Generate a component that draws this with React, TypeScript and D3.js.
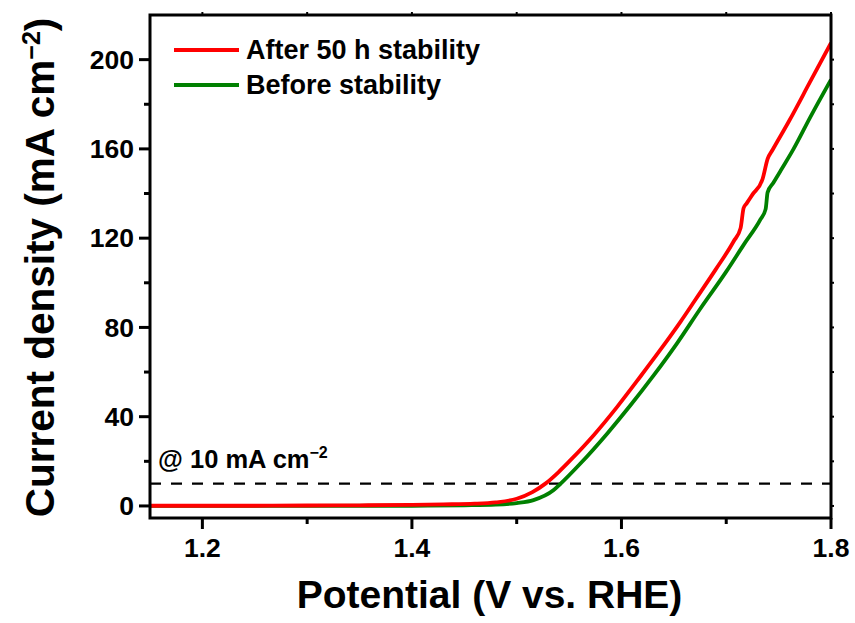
import React from "react";
import * as d3 from "d3";

const afterX = [1.15, 1.2, 1.25, 1.3, 1.35, 1.4, 1.43, 1.46, 1.48, 1.5, 1.515, 1.5274, 1.54, 1.5513, 1.5735, 1.5959, 1.6181, 1.6372, 1.6563, 1.6707, 1.69, 1.707, 1.7137, 1.7166, 1.7195, 1.725, 1.7347, 1.7395, 1.7443, 1.76, 1.78, 1.8];
const afterY = [0.1, 0.1, 0.1, 0.2, 0.3, 0.5, 0.7, 1.0, 1.6, 3.2, 6.2, 10.0, 15.2, 20.5, 31.7, 44.4, 58.0, 70.0, 82.5, 92.5, 106, 118.5, 124.5, 133.5, 135.6, 139.5, 146.5, 155.5, 159.6, 172.5, 190, 207.5];

const beforeX = [1.15, 1.3, 1.4, 1.45, 1.48, 1.5, 1.516, 1.535, 1.542, 1.5608, 1.5863, 1.6086, 1.6309, 1.6532, 1.6754, 1.7, 1.7166, 1.7328, 1.7376, 1.7395, 1.745, 1.752, 1.7643, 1.78, 1.8];
const beforeY = [0, 0, 0.1, 0.3, 0.6, 1.3, 2.6, 7.0, 10.0, 19.0, 32.4, 45.1, 58.6, 73.0, 88.5, 105, 117, 128.5, 133, 140.5, 144.8, 150.3, 160, 174, 191];

const xMajor = [1.2, 1.4, 1.6, 1.8];
const xMinor = [1.3, 1.5, 1.7];
const yMajor = [0, 40, 80, 120, 160, 200];
const yMinor = [20, 60, 100, 140, 180, 220];
const refLevel = 10;

const seriesNames = ["After 50 h stability", "Before stability"];
const seriesColors = ["#FF0000", "#008000"];

const W = 855, H = 623;
const L = 150, R = 831, T = 15, B = 518;
const FONT = "Liberation Sans, Arial, Helvetica, sans-serif";

export default function App() {
  const x = d3.scaleLinear().domain([1.15, 1.8]).range([L, R]);
  const y = d3.scaleLinear().domain([-5.4, 220]).range([B, T]);
  const line = d3.line<[number, number]>().x(d => x(d[0])).y(d => y(d[1])).curve(d3.curveMonotoneX);
  const after: [number, number][] = afterX.map((v, i) => [v, afterY[i]]);
  const before: [number, number][] = beforeX.map((v, i) => [v, beforeY[i]]);
  const sw = 3;
  return (
    <svg width={W} height={H} style={{ position: "absolute", left: 0, top: 0, background: "#fff" }} fontFamily={FONT} fontWeight="bold">
      <defs>
        <clipPath id="clip"><rect x={L} y={T} width={R - L} height={B - T} /></clipPath>
      </defs>
      <line x1={L} x2={R} y1={y(refLevel)} y2={y(refLevel)} stroke="#000" strokeWidth={2.2} strokeDasharray="11,10" />
      <g clipPath="url(#clip)">
        <path d={line(before) || ""} fill="none" stroke={seriesColors[1]} strokeWidth={3.8} strokeLinejoin="round" />
        <path d={line(after) || ""} fill="none" stroke={seriesColors[0]} strokeWidth={3.8} strokeLinejoin="round" />
      </g>
      <rect x={L} y={T} width={R - L} height={B - T} fill="none" stroke="#000" strokeWidth={sw} />
      {xMajor.map(v => <line key={"xM" + v} x1={x(v)} x2={x(v)} y1={B} y2={B + 11} stroke="#000" strokeWidth={sw} />)}
      {xMinor.map(v => <line key={"xm" + v} x1={x(v)} x2={x(v)} y1={B} y2={B + 6} stroke="#000" strokeWidth={sw} />)}
      {xMajor.concat(xMinor).map(v => <line key={"xt" + v} x1={x(v)} x2={x(v)} y1={T} y2={T - 3} stroke="#000" strokeWidth={2} />)}
      {yMajor.map(v => <line key={"yM" + v} x1={L} x2={L - 11} y1={y(v)} y2={y(v)} stroke="#000" strokeWidth={sw} />)}
      {yMinor.filter(v => v < 220).map(v => <line key={"ym" + v} x1={L} x2={L - 6} y1={y(v)} y2={y(v)} stroke="#000" strokeWidth={sw} />)}
      {yMajor.concat(yMinor).filter(v => v < 220).map(v => <line key={"yr" + v} x1={R} x2={R + 3} y1={y(v)} y2={y(v)} stroke="#000" strokeWidth={2} />)}
      {xMajor.map(v => (
        <text key={"xl" + v} x={x(v)} y={557} textAnchor="middle" fontSize={26.5}>{d3.format(".1f")(v)}</text>
      ))}
      {yMajor.map(v => (
        <text key={"yl" + v} x={134} y={y(v)} dy="0.35em" textAnchor="end" fontSize={26.5}>{v}</text>
      ))}
      <text x={(L + R) / 2 - 1} y={608} textAnchor="middle" fontSize={39}>Potential (V vs. RHE)</text>
      <text transform={`translate(54,${(T + B) / 2 + 1}) rotate(-90)`} textAnchor="middle" fontSize={40.5}>
        Current density (mA cm<tspan dy="-14" fontSize={25}>−2</tspan><tspan dy="14">)</tspan>
      </text>
      <text x={158} y={468} fontSize={25.5}>
        @ 10 mA cm<tspan dy="-10" fontSize={16}>−2</tspan>
      </text>
      {seriesNames.map((n, i) => (
        <g key={n}>
          <line x1={174} x2={239} y1={50 + i * 35} y2={50 + i * 35} stroke={seriesColors[i]} strokeWidth={3.8} />
          <text x={246} y={59 + i * 35} fontSize={27}>{n}</text>
        </g>
      ))}
    </svg>
  );
}
